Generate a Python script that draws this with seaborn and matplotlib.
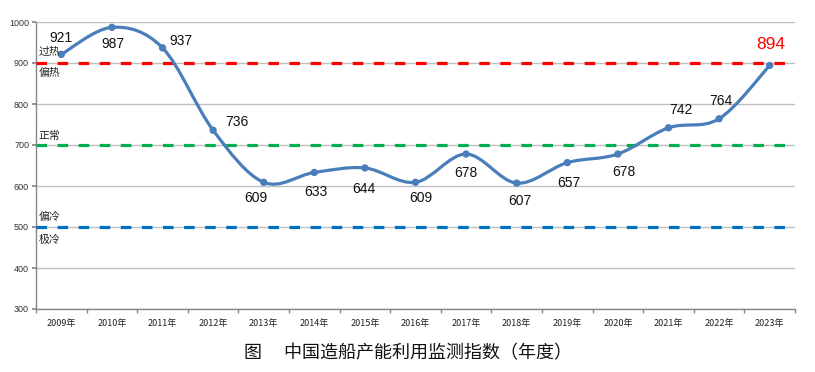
import numpy as np
import pandas as pd
import matplotlib
matplotlib.use("Agg")
import matplotlib.pyplot as plt
from matplotlib.path import Path
from matplotlib.patches import PathPatch
import seaborn as sns

years = ["2009年", "2010年", "2011年", "2012年", "2013年", "2014年", "2015年", "2016年",
         "2017年", "2018年", "2019年", "2020年", "2021年", "2022年", "2023年"]
index_values = [921, 987, 937, 736, 609, 633, 644, 609, 678, 607, 657, 678, 742, 764, 894]

# zone thresholds and their labels
zone_levels = [900, 700, 500]
zone_colors = ["#FF0000", "#00B050", "#0070C0"]
zone_names = ["过热", "偏热", "正常", "偏冷", "极冷"]
zone_name_y = [927, 877, 722, 524, 468]

# label offsets (points) for each data label
label_offsets = [(0, 12), (1, -12), (13, 5), (17, 6), (-6, -11), (1, -14), (-1, -15), (4, -11),
                 (0, -14), (2, -13), (1, -15), (4, -13), (9, 13), (1, 13), (1, 15)]

df = pd.DataFrame({"year": years, "value": index_values})
df["pos"] = np.arange(len(df))

sns.set_theme(style="white")
plt.rcParams["font.family"] = ["Noto Sans CJK SC", "DejaVu Sans"]

fig = plt.figure(figsize=(8.15, 3.72), dpi=100)
ax = fig.add_axes([36 / 815, 1 - 309 / 372, 759 / 815, 287 / 372])

ax.set_xlim(-0.5, len(years) - 0.5)
ax.set_ylim(300, 1000)
ax.set_yticks(range(300, 1001, 100))
ax.yaxis.grid(True, color="#BFBFBF", linewidth=1)
ax.set_axisbelow(True)

# smooth line (Catmull-Rom as cubic bezier, like Excel smoothed line)
pts = df[["pos", "value"]].to_numpy(dtype=float)
ext = np.vstack([pts[0], pts, pts[-1]])
verts = [tuple(pts[0])]
codes = [Path.MOVETO]
for i in range(1, len(ext) - 2):
    p0, p1, p2, p3 = ext[i - 1], ext[i], ext[i + 1], ext[i + 2]
    c1 = p1 + (p2 - p0) / 6
    c2 = p2 - (p3 - p1) / 6
    verts += [tuple(c1), tuple(c2), tuple(p2)]
    codes += [Path.CURVE4] * 3
ax.add_patch(PathPatch(Path(verts, codes), facecolor="none", edgecolor="#4A7EBB",
                       linewidth=2.3, zorder=4, capstyle="round", joinstyle="round"))

sns.scatterplot(data=df, x="pos", y="value", color="#4A7EBB", s=28, edgecolor="none",
                zorder=5, ax=ax, legend=False)

for lvl, col in zip(zone_levels, zone_colors):
    ax.axhline(lvl, color=col, linewidth=2.3, dashes=(3.3, 3.3), zorder=3)

for name, yv in zip(zone_names, zone_name_y):
    ax.text(0.003, yv, name, transform=ax.get_yaxis_transform(), fontsize=7.8,
            va="center", ha="left", color="#222222", zorder=6)

for i, (v, off) in enumerate(zip(index_values, label_offsets)):
    last = i == len(index_values) - 1
    ax.annotate(str(v), (i, v), xytext=off, textcoords="offset points",
                ha="center", va="center", family="Liberation Sans",
                fontsize=12.5 if last else 10,
                color="#FF0000" if last else "#111111", zorder=7)

ax.set_xticks(df["pos"])
ax.set_xticklabels(years, fontsize=6.5, color="#222222")
ax.set_xticks(np.arange(-0.5, len(years)), minor=True)
ax.tick_params(axis="x", which="major", length=0, pad=7)
ax.tick_params(axis="x", which="minor", length=3, color="#868686", direction="out", bottom=True)
ax.tick_params(axis="y", length=3, color="#868686", direction="out", left=True, pad=2)
for lab in ax.get_yticklabels():
    lab.set_family("Liberation Sans")
    lab.set_fontsize(6.5)
    lab.set_color("#333333")

for side in ["top", "right"]:
    ax.spines[side].set_visible(False)
for side in ["left", "bottom"]:
    ax.spines[side].set_color("#868686")
    ax.spines[side].set_linewidth(1)

ax.set_xlabel("")
ax.set_ylabel("")

fig.text(0.5, 1 - 353 / 372, "图\u3000 中国造船产能利用监测指数（年度）", ha="center", va="center",
         fontsize=13, color="#111111")

fig.savefig("out.png", dpi=100)
